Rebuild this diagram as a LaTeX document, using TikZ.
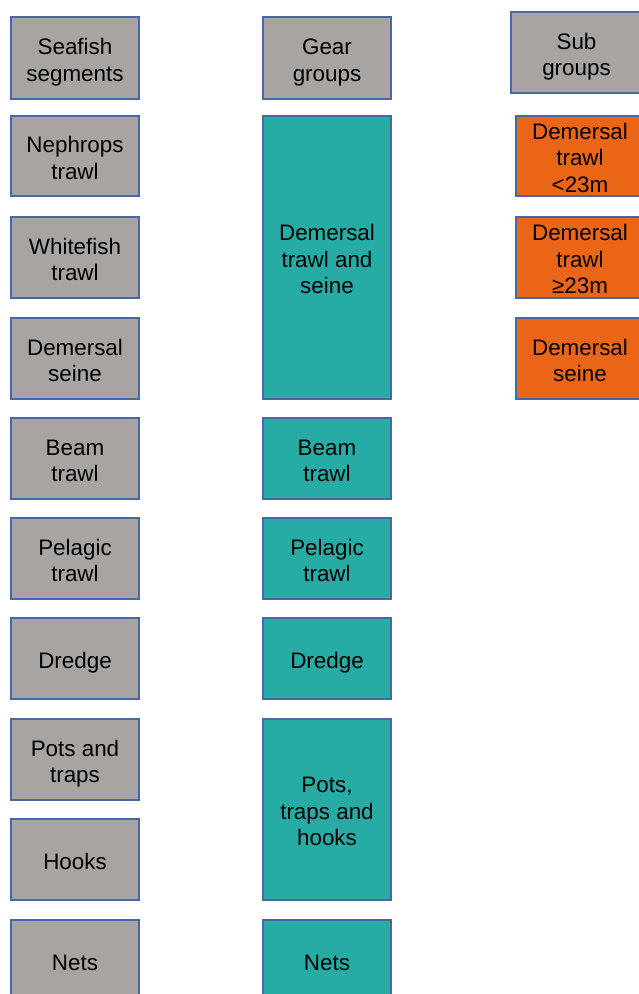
\documentclass[tikz,border=0pt]{standalone}
\usepackage{fontspec}
\setmainfont{Liberation Sans}
\definecolor{boxgray}{RGB}{167,164,162}
\definecolor{boxteal}{RGB}{38,172,164}
\definecolor{boxorange}{RGB}{234,102,22}
\definecolor{boxedge}{RGB}{70,104,168}
\newcommand{\bxt}[1]{\raisebox{-4.5pt}[\height][\depth]{\begin{tabular}{@{}c@{}}#1\end{tabular}}}
\tikzset{
  basebox/.style={draw=boxedge, line width=1.6pt, rectangle, inner sep=0pt, outer sep=0pt,
    text=black, font=\fontsize{22.4}{26.5}\selectfont},
  graybox/.style={basebox, fill=boxgray, minimum width=128pt},
  tealbox/.style={basebox, fill=boxteal, minimum width=128pt},
  orangebox/.style={basebox, fill=boxorange, minimum width=128pt},
}
\begin{document}
\begin{tikzpicture}[x=1pt,y=-1pt]
\useasboundingbox (0,0) rectangle (639,994);
\clip (0,0) rectangle (639,994);
\fill[white] (0,0) rectangle (639,994);
% left column
\node[graybox, minimum height=82pt] (s1) at (75,58) {\bxt{Seafish\\segments}};
\node[graybox, minimum height=80pt] (s2) at (75,156) {\bxt{Nephrops\\trawl}};
\node[graybox, minimum height=81pt] (s3) at (75,257.5) {\bxt{Whitefish\\trawl}};
\node[graybox, minimum height=81pt] (s4) at (75,358.5) {\bxt{Demersal\\seine}};
\node[graybox, minimum height=81pt] (s5) at (75,458.5) {\bxt{Beam\\trawl}};
\node[graybox, minimum height=81pt] (s6) at (75,558.5) {\bxt{Pelagic\\trawl}};
\node[graybox, minimum height=81pt] (s7) at (75,658.5) {\bxt{Dredge}};
\node[graybox, minimum height=81pt] (s8) at (75,759.5) {\bxt{Pots and\\traps}};
\node[graybox, minimum height=81pt] (s9) at (75,859.5) {\bxt{Hooks}};
\node[graybox, minimum height=81pt] (s10) at (75,960.5) {\bxt{Nets}};
% middle column
\node[graybox, minimum height=82pt] (g1) at (327,58) {\bxt{Gear\\groups}};
\node[tealbox, minimum height=283pt] (g2) at (327,257.5) {\bxt{Demersal\\trawl and\\seine}};
\node[tealbox, minimum height=81pt] (g3) at (327,458.5) {\bxt{Beam\\trawl}};
\node[tealbox, minimum height=81pt] (g4) at (327,558.5) {\bxt{Pelagic\\trawl}};
\node[tealbox, minimum height=81pt] (g5) at (327,658.5) {\bxt{Dredge}};
\node[tealbox, minimum height=181pt] (g6) at (327,809.5) {\bxt{Pots,\\traps and\\hooks}};
\node[tealbox, minimum height=81pt] (g7) at (327,960.5) {\bxt{Nets}};
% right column
\node[graybox, minimum width=131pt, minimum height=81pt] (r0) at (576.5,52.5) {\bxt{Sub\\groups}};
\node[orangebox, minimum height=80pt] (r1) at (580,156) {\bxt{Demersal\\trawl\\<23m}};
\node[orangebox, minimum height=81pt] (r2) at (580,257.5) {\bxt{Demersal\\trawl\\≥23m}};
\node[orangebox, minimum height=81pt] (r3) at (580,358.5) {\bxt{Demersal\\seine}};
\end{tikzpicture}
\end{document}
